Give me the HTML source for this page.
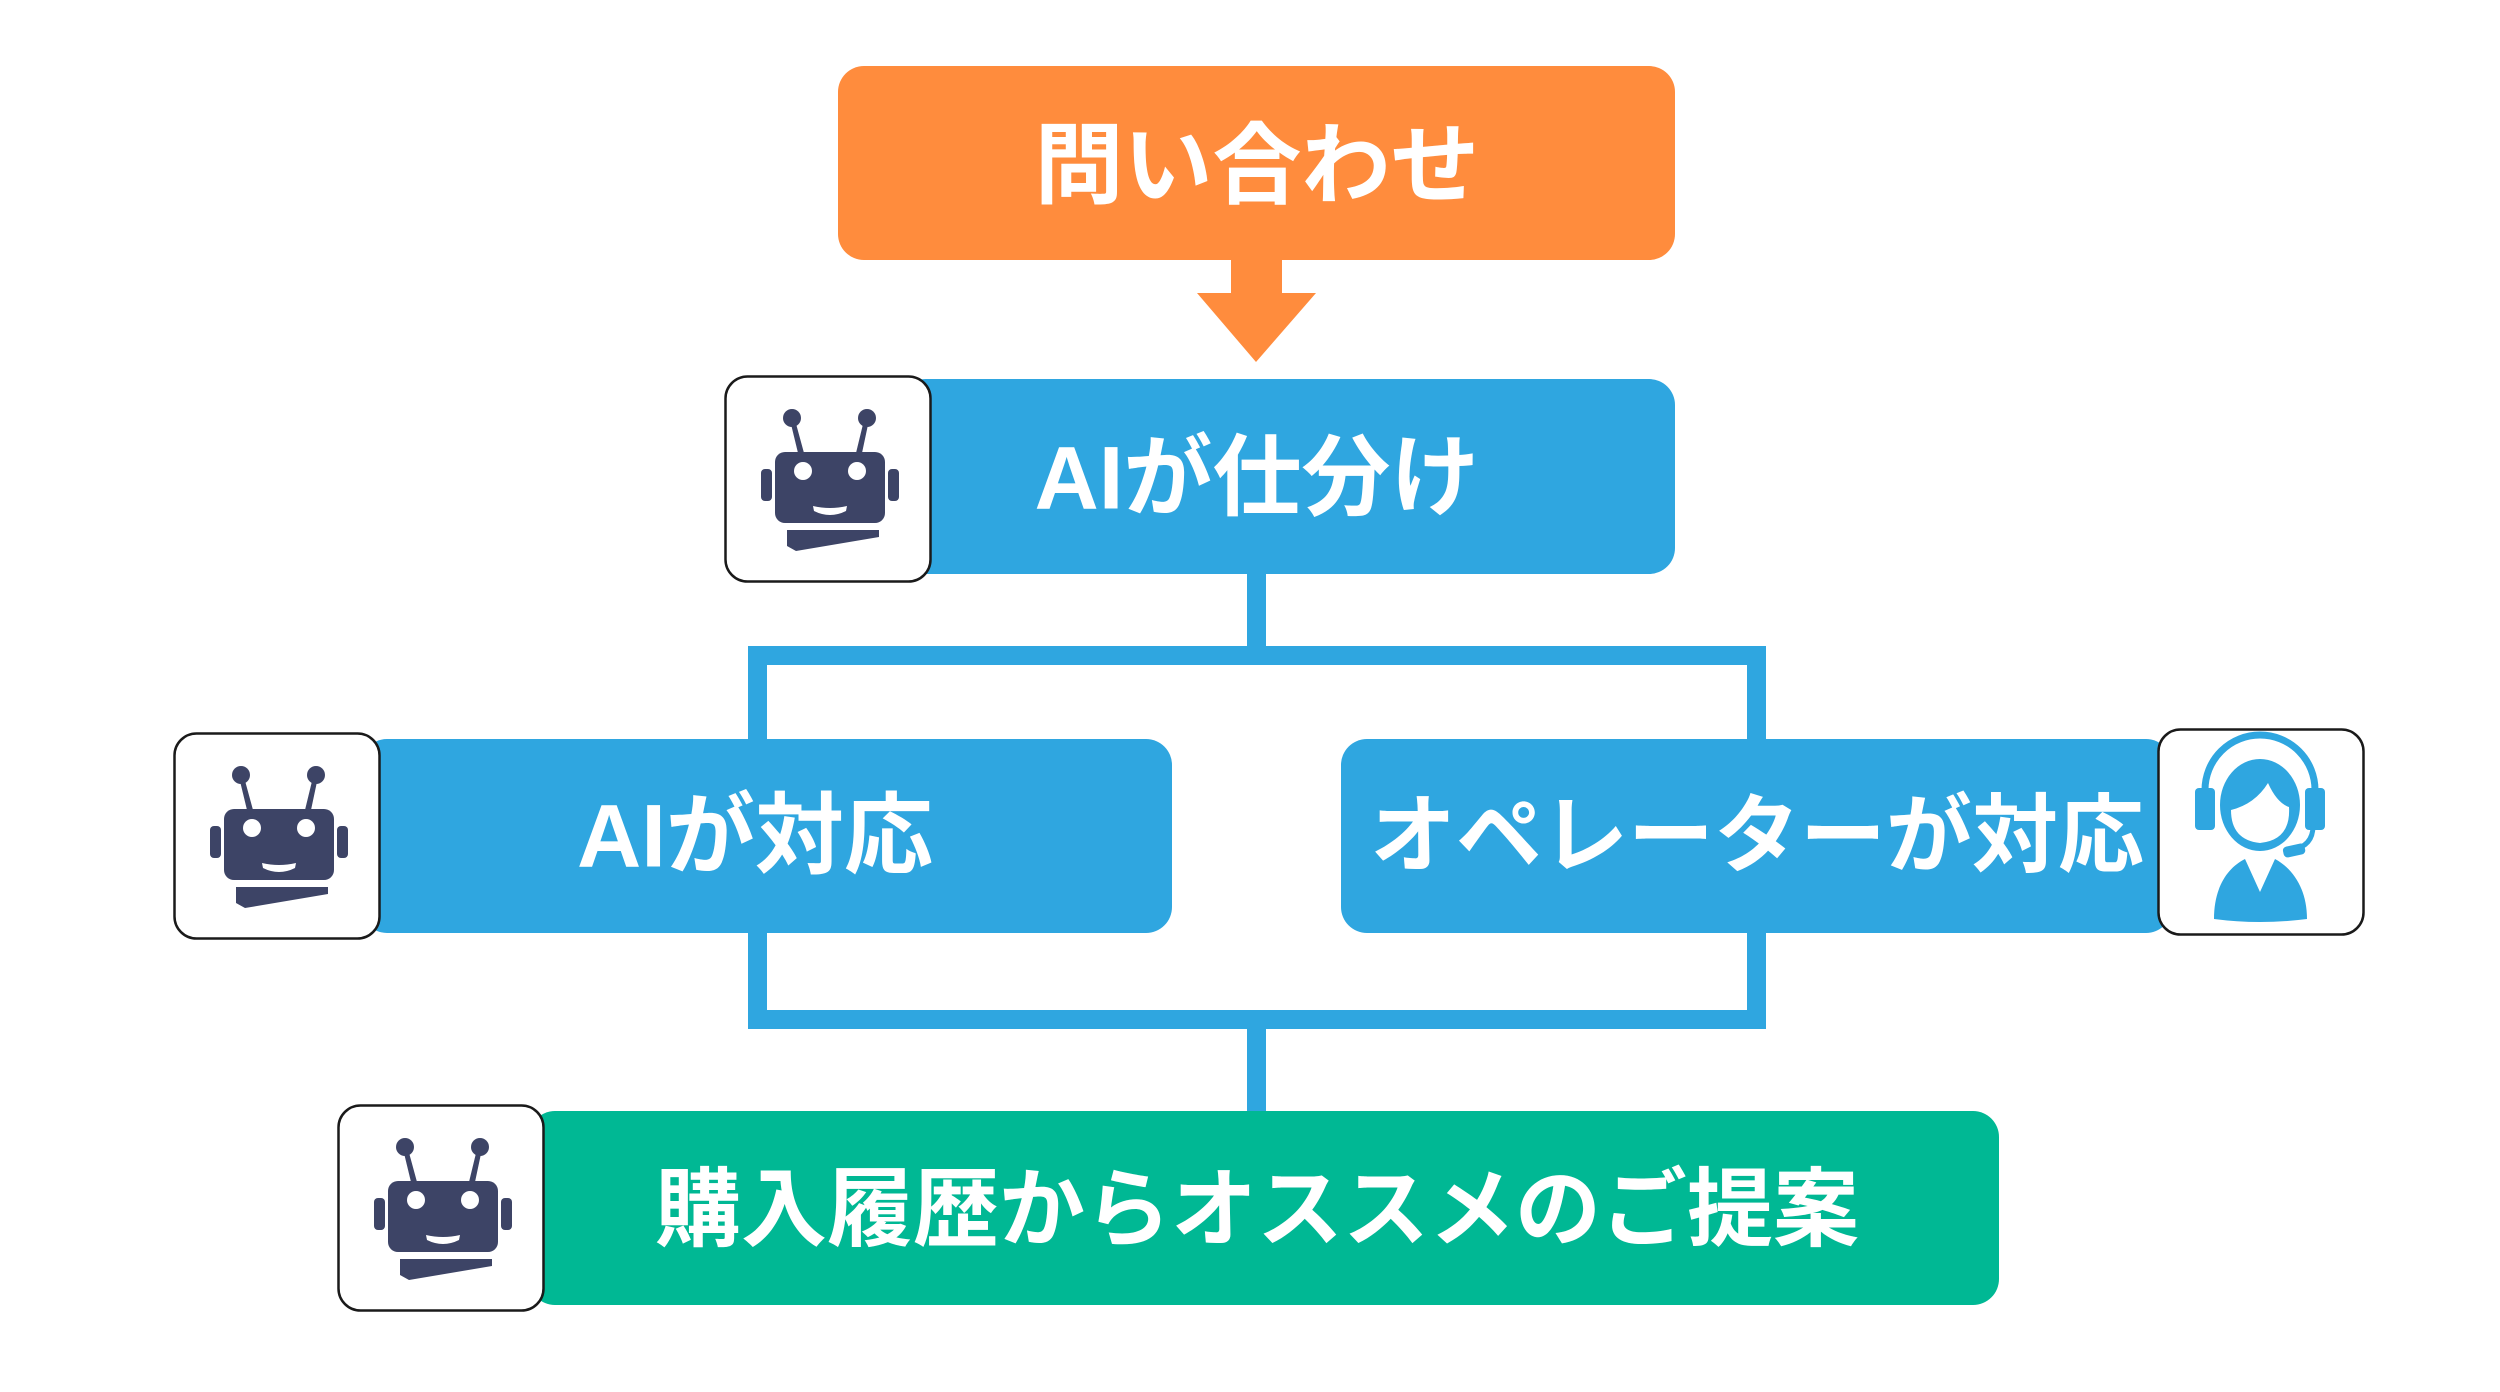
<!DOCTYPE html>
<html><head><meta charset="utf-8"><style>
html,body{margin:0;padding:0;background:#fff;width:2500px;height:1392px;overflow:hidden}
.b{position:absolute;border-radius:26px}
.t{position:absolute;color:#fff;font-family:"Liberation Sans","Noto Sans CJK JP",sans-serif;font-weight:bold;font-size:86px;white-space:nowrap;transform:translate(-50%,-50%);line-height:1}
.i{position:absolute;width:208px;height:208px}
.l{position:absolute;background:#2FA6E0}
</style></head><body>
<div class="l" style="left:1247px;top:574px;width:19px;height:80px"></div>
<div class="l" style="left:1247px;top:1020px;width:19px;height:95px"></div>
<div style="position:absolute;left:748px;top:646px;width:980px;height:345px;border:19px solid #2FA6E0"></div>

<div class="b" style="left:838px;top:66px;width:837px;height:194px;background:#FF8C3D"></div>
<svg style="position:absolute;left:1190px;top:258px" width="130" height="106"><polygon points="41,2 92,2 92,35 126,35 66,104 7,35 41,35" fill="#FF8C3D"/></svg>
<div class="b" style="left:900px;top:379px;width:775px;height:195px;background:#2FA6E0"></div>
<div class="b" style="left:361px;top:739px;width:811px;height:194px;background:#2FA6E0"></div>
<div class="b" style="left:1341px;top:739px;width:831px;height:194px;background:#2FA6E0"></div>
<div class="b" style="left:529px;top:1111px;width:1470px;height:194px;background:#00B894"></div>

<div class="t" style="left:1257px;top:166px;font-size:89px">問い合わせ</div>
<div class="t" style="left:1257px;top:478px;font-size:89px">AIが仕分け</div>
<div class="t" style="left:755px;top:836px;font-size:89px">AIが対応</div>
<div class="t" style="left:1757px;top:836px">オペレーターが対応</div>
<div class="t" style="left:1257px;top:1210px">購入履歴からオススメのご提案</div>

<svg width="0" height="0" style="position:absolute"><defs>
<g id="robot">
<rect x="1.5" y="1.5" width="205" height="205" rx="22" fill="#fff" stroke="#1a1a1a" stroke-width="2.5"/>
<g fill="#3D4466">
<circle cx="68" cy="43" r="9"/><circle cx="143" cy="43" r="9"/>
<polygon points="66,45 71,45 80,78 74,78"/><polygon points="140,45 145,45 138,78 132,78"/>
<rect x="51" y="77" width="110" height="71" rx="10"/>
<rect x="37" y="94" width="11" height="32" rx="4"/><rect x="164" y="94" width="11" height="32" rx="4"/>
<polygon points="63,155 155,155 155,162 72,176 63,171"/>
</g>
<circle cx="79" cy="96" r="9" fill="#fff"/><circle cx="133" cy="96" r="9" fill="#fff"/>
<path d="M89,131 Q106,135 123,131 L122,136 Q106,144 90,136Z" fill="#fff"/>
</g></defs></svg>

<svg class="i" style="left:724px;top:375px"><use href="#robot"/></svg>
<svg class="i" style="left:173px;top:732px"><use href="#robot"/></svg>
<svg class="i" style="left:337px;top:1104px"><use href="#robot"/></svg>

<svg class="i" style="left:2157px;top:728px" viewBox="0 0 208 208">
<rect x="1.5" y="1.5" width="205" height="205" rx="22" fill="#fff" stroke="#1a1a1a" stroke-width="2.5"/>
<g fill="#2FA6E0">
<path d="M48,62 A55,55 0 0 1 158,62" fill="none" stroke="#2FA6E0" stroke-width="7"/>
<rect x="38" y="60" width="20" height="42" rx="4"/><rect x="148" y="60" width="20" height="42" rx="4"/>
<ellipse cx="103" cy="77" rx="40" ry="46"/>
<path d="M156,98 Q156,118 135,122" fill="none" stroke="#2FA6E0" stroke-width="5"/>
<rect x="126" y="117" width="22" height="11" rx="4" transform="rotate(-12 137 122)"/>
<path d="M57,191 C57,160 70,140 88,131 L103,164 L118,131 C135,140 150,160 150,191 Q103,197 57,191Z"/>
</g>
<path d="M74,82 Q98,76 111,55 Q120,75 132,79 Q134,112 103,115 Q74,112 74,82Z" fill="#fff"/>
</svg>
</body></html>
